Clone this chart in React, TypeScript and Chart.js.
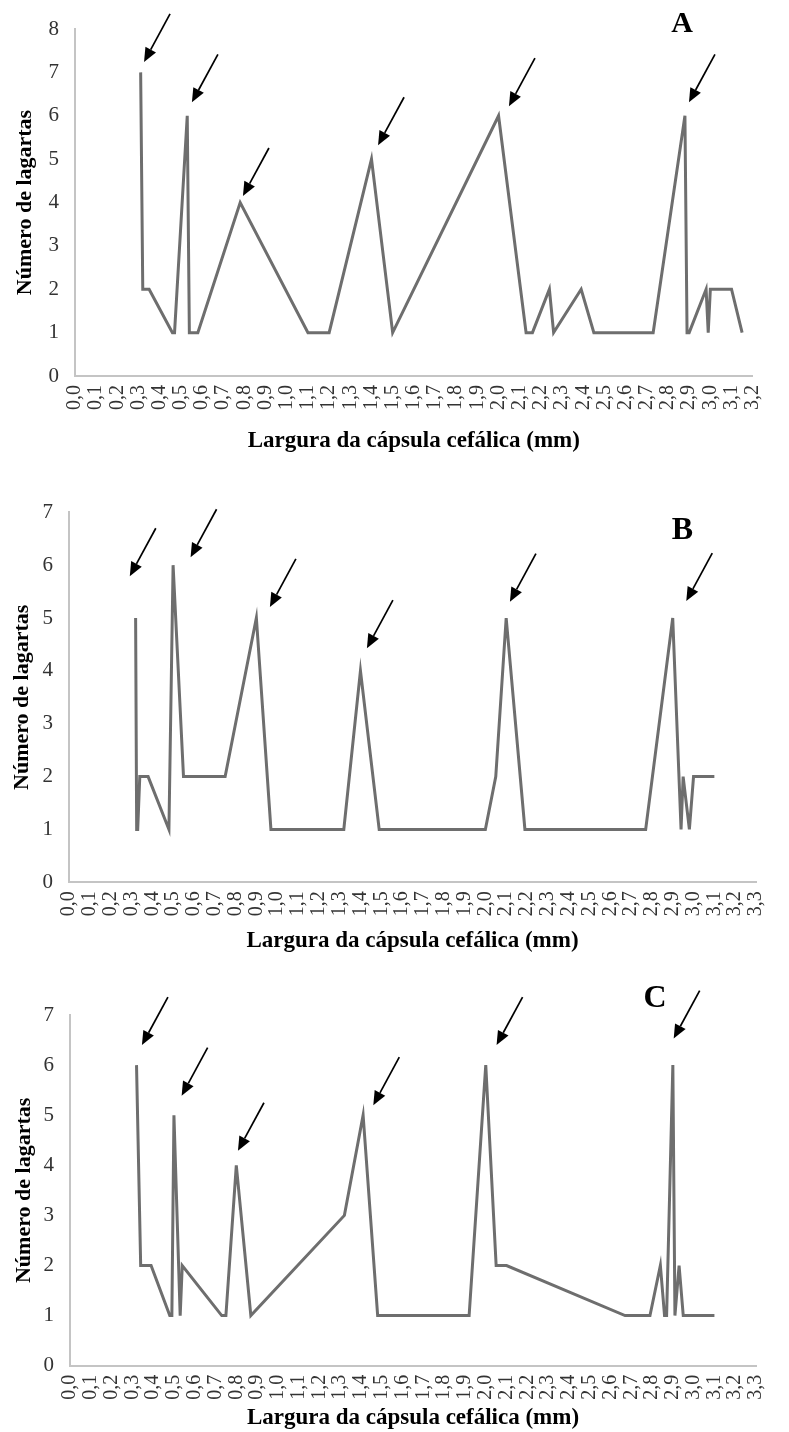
import React, { useEffect, useRef } from 'react';
import { Chart, registerables } from 'chart.js';
Chart.register(...registerables);

// ---- Data (head capsule width in mm, number of larvae) ----
const widthsA = [0.31, 0.32, 0.35, 0.46, 0.47, 0.53, 0.54, 0.58, 0.78, 1.10, 1.20, 1.40, 1.50, 2.00, 2.13, 2.16, 2.24, 2.26, 2.39, 2.45, 2.73, 2.88, 2.89, 2.90, 2.98, 2.99, 3.00, 3.10, 3.15];
const countsA = [7, 2, 2, 1, 1, 6, 1, 1, 4, 1, 1, 5, 1, 6, 1, 1, 2, 1, 2, 1, 1, 6, 1, 1, 2, 1, 2, 2, 1];

const widthsB = [0.32, 0.325, 0.33, 0.34, 0.38, 0.48, 0.50, 0.55, 0.75, 0.90, 0.97, 1.32, 1.40, 1.49, 2.00, 2.05, 2.10, 2.19, 2.77, 2.90, 2.94, 2.95, 2.98, 3.00, 3.10];
const countsB = [5, 1, 1, 2, 2, 1, 6, 2, 2, 5, 1, 1, 4, 1, 1, 2, 5, 1, 1, 5, 1, 2, 1, 2, 2];

const widthsC = [0.32, 0.34, 0.39, 0.48, 0.49, 0.50, 0.53, 0.54, 0.73, 0.75, 0.80, 0.87, 1.32, 1.41, 1.48, 1.92, 2.00, 2.05, 2.10, 2.67, 2.79, 2.84, 2.86, 2.87, 2.90, 2.91, 2.93, 2.95, 3.10];
const countsC = [6, 2, 2, 1, 1, 5, 1, 2, 1, 1, 4, 1, 3, 5, 1, 1, 6, 2, 2, 1, 1, 2, 1, 1, 6, 1, 2, 1, 1];

// arrow tips (data coordinates) marking the instars
const arrowXA = [0.326, 0.552, 0.793, 1.431, 2.049, 2.899];
const arrowYA = [7.24, 6.31, 4.15, 5.32, 6.22, 6.31];
const arrowXB = [0.292, 0.584, 0.965, 1.431, 2.118, 2.965];
const arrowYB = [5.79, 6.15, 5.21, 4.43, 5.31, 5.32];
const arrowXC = [0.346, 0.537, 0.808, 1.459, 2.052, 2.904];
const arrowYC = [6.40, 5.39, 4.29, 5.20, 6.40, 6.53];

const xMaxA = 3.2;
const xMaxB = 3.3;
const xMaxC = 3.3;
const yMaxA = 8;
const yMaxB = 7;
const yMaxC = 7;

const xTitle = 'Largura da cápsula cefálica (mm)';
const yTitle = 'Número de lagartas';

const SERIF = '"Liberation Serif", "Times New Roman", serif';

const annotPlugin = {
  id: 'annot',
  afterDatasetsDraw(chart: any, _args: any, opts: any) {
    const { ctx } = chart;
    const xs = chart.scales.x;
    const ys = chart.scales.y;
    ctx.save();
    ctx.strokeStyle = '#000';
    ctx.fillStyle = '#000';
    ctx.lineWidth = 1.7;
    for (let i = 0; i < opts.ax.length; i++) {
      const tx = xs.getPixelForValue(opts.ax[i]);
      const ty = ys.getPixelForValue(opts.ay[i]);
      const sx = tx + 26;
      const sy = ty - 48;
      const ang = Math.atan2(ty - sy, tx - sx);
      const hl = 14;
      const hw = 6;
      const bx = tx - hl * Math.cos(ang);
      const by = ty - hl * Math.sin(ang);
      ctx.beginPath();
      ctx.moveTo(sx, sy);
      ctx.lineTo(bx, by);
      ctx.stroke();
      ctx.beginPath();
      ctx.moveTo(tx, ty);
      ctx.lineTo(bx + hw * Math.sin(ang), by - hw * Math.cos(ang));
      ctx.lineTo(bx - hw * Math.sin(ang), by + hw * Math.cos(ang));
      ctx.closePath();
      ctx.fill();
    }
    ctx.font = `bold ${opts.letterSize}px ${SERIF}`;
    ctx.textAlign = 'center';
    ctx.textBaseline = 'middle';
    ctx.fillText(opts.letter, xs.getPixelForValue(opts.lx), ys.getPixelForValue(opts.ly));
    ctx.restore();
  },
};

type PanelProps = {
  xs: number[];
  ys: number[];
  xMax: number;
  yMax: number;
  ax: number[];
  ay: number[];
  letter: string;
  lx: number;
  ly: number;
  letterSize: number;
  height: number;
  areaLeft: number;
  areaRight: number;
  areaTop: number;
  areaBottom: number;
  xTitlePad: number;
  yTitlePad: number;
};

function Panel(p: PanelProps) {
  const ref = useRef<HTMLCanvasElement>(null);
  useEffect(() => {
    if (!ref.current) return;
    const chart = new Chart(ref.current, {
      type: 'scatter',
      data: {
        datasets: [
          {
            data: p.xs.map((x, i) => ({ x, y: p.ys[i] })),
            showLine: true,
            borderColor: '#6e6e6e',
            borderWidth: 3,
            pointRadius: 0,
            tension: 0,
            fill: false,
          },
        ],
      },
      options: {
        animation: false,
        responsive: false,
        maintainAspectRatio: false,
        layout: { padding: { left: 0, right: 789 - p.areaRight, top: p.areaTop, bottom: 0 } },
        plugins: {
          legend: { display: false },
          tooltip: { enabled: false },
          annot: { ax: p.ax, ay: p.ay, letter: p.letter, lx: p.lx, ly: p.ly, letterSize: p.letterSize },
        } as any,
        scales: {
          x: {
            type: 'linear',
            min: 0,
            max: p.xMax,
            grid: { display: false, drawTicks: false },
            border: { display: true, color: '#c4c4c4', width: 2 },
            ticks: {
              stepSize: 0.1,
              autoSkip: false,
              minRotation: 90,
              maxRotation: 90,
              padding: 9,
              color: '#333',
              font: { family: SERIF, size: 20 },
              callback: (v: any) => Number(v).toFixed(1).replace('.', ','),
            },
            title: {
              display: true,
              text: xTitle,
              color: '#000',
              font: { family: SERIF, size: 23, weight: 'bold' },
              padding: { top: 0, bottom: p.xTitlePad },
            },
            afterFit: (s: any) => {
              s.height = p.height - p.areaBottom;
            },
          },
          y: {
            type: 'linear',
            min: 0,
            max: p.yMax,
            grid: { display: false, drawTicks: false },
            border: { display: true, color: '#c4c4c4', width: 2 },
            ticks: {
              stepSize: 1,
              padding: 16,
              color: '#333',
              font: { family: SERIF, size: 21 },
            },
            title: {
              display: true,
              text: yTitle,
              color: '#000',
              font: { family: SERIF, size: 22, weight: 'bold' },
              padding: { top: p.yTitlePad, bottom: 0 },
            },
            afterFit: (s: any) => {
              s.width = p.areaLeft;
            },
          },
        },
      } as any,
      plugins: [annotPlugin as any],
    });
    return () => chart.destroy();
  }, []);
  return <canvas ref={ref} width={789} height={p.height} style={{ display: 'block', width: 789, height: p.height }} />;
}

export default function App() {
  return (
    <div style={{ position: 'absolute', left: 0, top: 0, width: 789, height: 1432, background: '#fff' }}>
      <Panel
        xs={widthsA}
        ys={countsA}
        xMax={xMaxA}
        yMax={yMaxA}
        ax={arrowXA}
        ay={arrowYA}
        letter="A"
        lx={2.866}
        ly={8.11}
        letterSize={30}
        height={460}
        areaLeft={75}
        areaRight={752.7}
        areaTop={29}
        areaBottom={376}
        xTitlePad={5}
        yTitlePad={12}
      />
      <Panel
        xs={widthsB}
        ys={countsB}
        xMax={xMaxB}
        yMax={yMaxB}
        ax={arrowXB}
        ay={arrowYB}
        letter="B"
        lx={2.946}
        ly={6.66}
        letterSize={32}
        height={500}
        areaLeft={69}
        areaRight={776.7}
        areaTop={52.3}
        areaBottom={422.3}
        xTitlePad={5}
        yTitlePad={9}
      />
      <Panel
        xs={widthsC}
        ys={countsC}
        xMax={xMaxC}
        yMax={yMaxC}
        ax={arrowXC}
        ay={arrowYC}
        letter="C"
        lx={2.814}
        ly={7.33}
        letterSize={32}
        height={472}
        areaLeft={70}
        areaRight={760}
        areaTop={55}
        areaBottom={405.7}
        xTitlePad={0}
        yTitlePad={11}
      />
    </div>
  );
}
